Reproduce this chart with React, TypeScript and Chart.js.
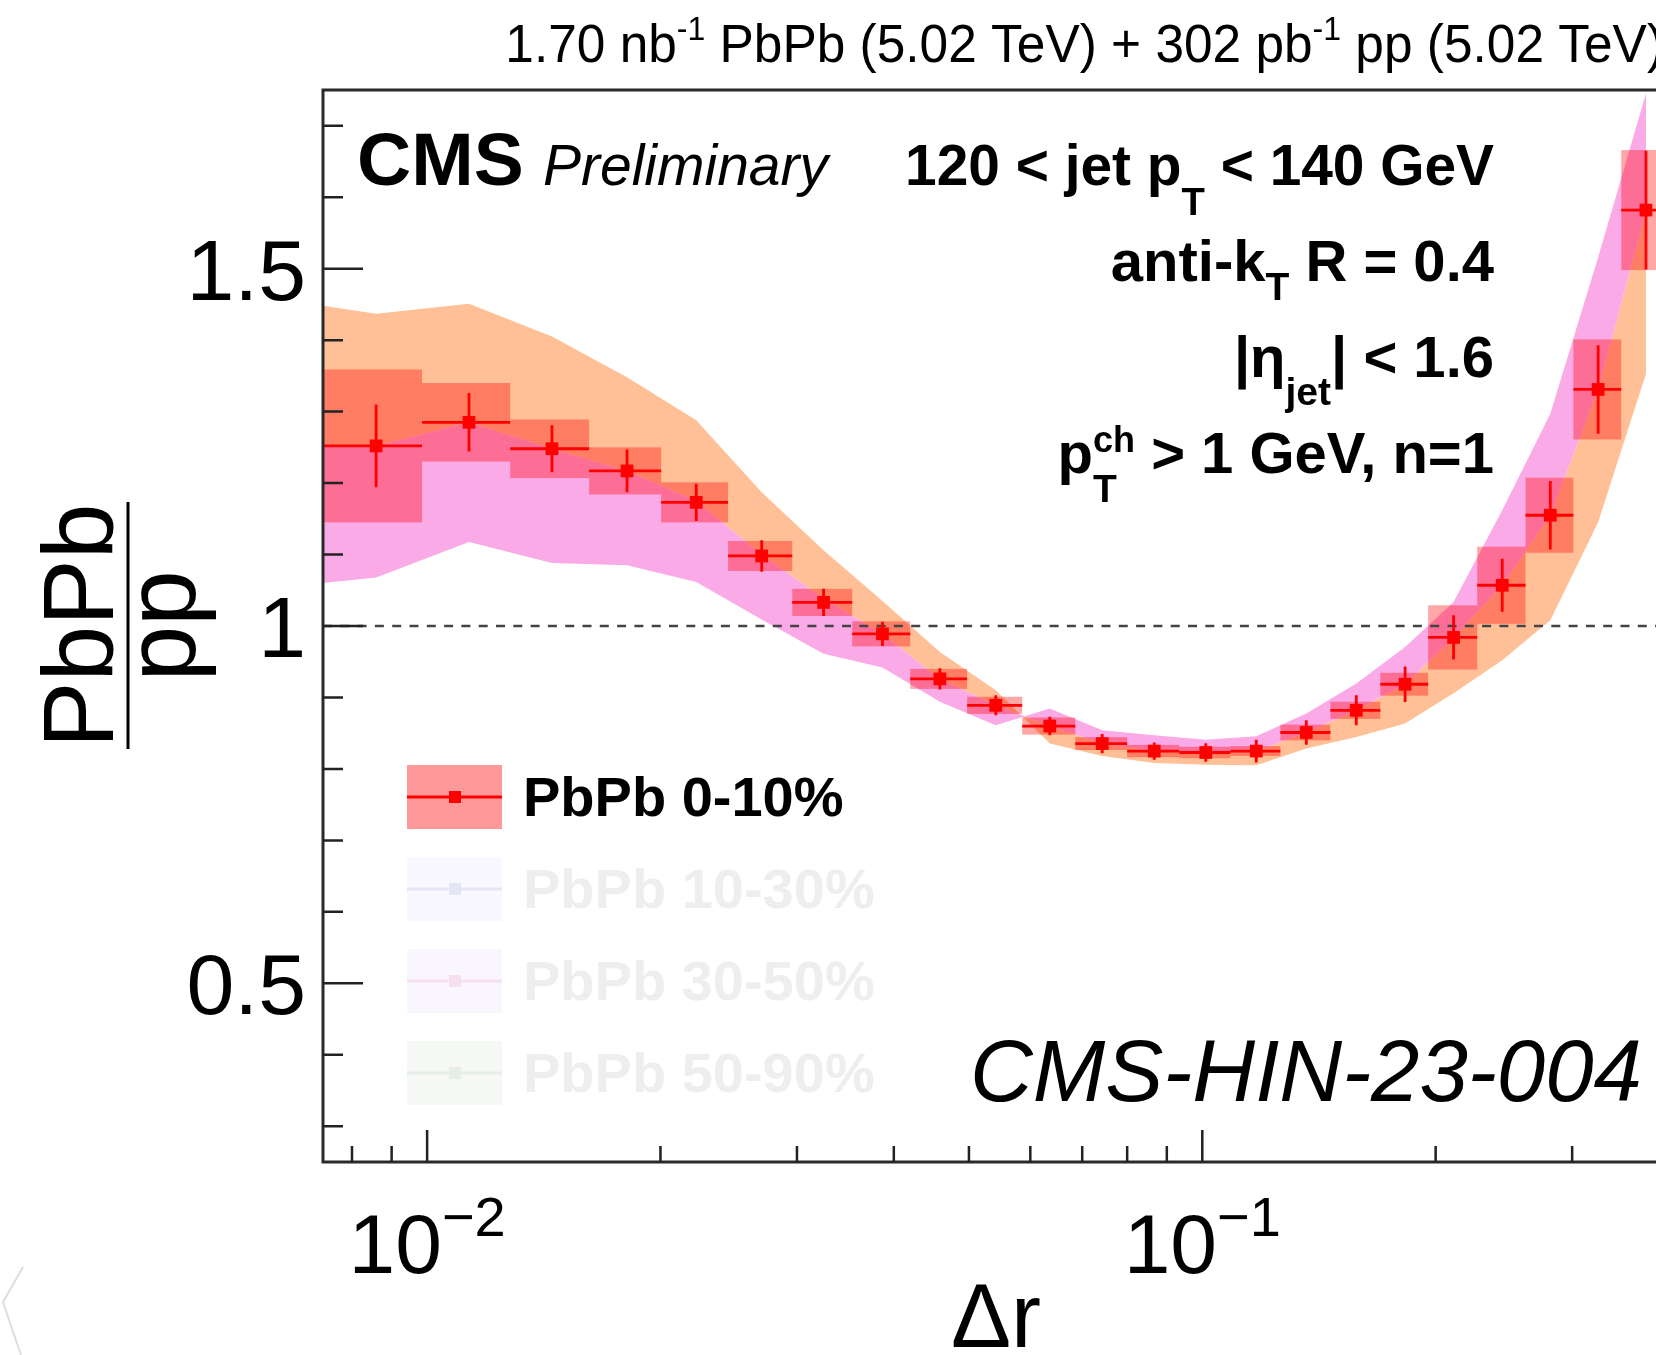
import React, { useEffect, useRef } from "react";
import { Chart, registerables } from "chart.js";

Chart.register(...registerables);

const FONT = '"Liberation Sans", Arial, Helvetica, sans-serif';

// Δr bin edges (23 bins)
const binEdges = [
  0.00734, 0.00985, 0.0128, 0.01618, 0.02004, 0.02445, 0.02958, 0.03535, 0.042, 0.04973,
  0.05857, 0.06857, 0.08, 0.0934, 0.1087, 0.1261, 0.1463, 0.1697, 0.1956, 0.2263,
  0.2612, 0.3011, 0.3471, 0.4,
];

// PbPb 0-10% / pp ratio, statistical and systematic uncertainties
const ratio010 = [
  1.252, 1.285, 1.248, 1.217, 1.173, 1.098, 1.033, 0.989, 0.926, 0.889, 0.86, 0.8355,
  0.825, 0.823, 0.825, 0.851, 0.882, 0.9185, 0.984, 1.057, 1.155, 1.331, 1.582,
];
const statErr = [
  0.058, 0.041, 0.033, 0.03, 0.026, 0.022, 0.019, 0.017, 0.015, 0.014, 0.013, 0.0135,
  0.012, 0.013, 0.016, 0.017, 0.021, 0.025, 0.031, 0.037, 0.048, 0.062, 0.083,
];
const sysErr = [
  0.107, 0.055, 0.041, 0.033, 0.028, 0.021, 0.019, 0.0175, 0.014, 0.012, 0.012, 0.009,
  0.0086, 0.008, 0.007, 0.011, 0.012, 0.016, 0.045, 0.054, 0.0525, 0.07, 0.084,
];

// Comparison bands: vertices at the frame's left edge, then at each bin centre.
const bandSplit = [
  1.252, 1.252, 1.285, 1.248, 1.217, 1.175, 1.1, 1.038, 0.989, 0.926, 0.889, 0.86,
  0.8355, 0.825, 0.823, 0.825, 0.851, 0.882, 0.9185, 0.984, 1.057, 1.155, 1.331, 1.58,
];
const pinkEdge = [
  1.06, 1.068, 1.1175, 1.088, 1.085, 1.0615, 1.009, 0.961, 0.942, 0.894, 0.861, 0.8845,
  0.854, 0.847, 0.841, 0.8457, 0.8775, 0.9194, 0.9706, 1.0336, 1.162, 1.297, 1.516, 1.745,
];
const orangeEdge = [
  1.448, 1.437, 1.451, 1.405, 1.348, 1.288, 1.187, 1.106, 1.035, 0.9636, 0.91, 0.8355,
  0.818, 0.8084, 0.806, 0.805, 0.8285, 0.8448, 0.8635, 0.906, 0.952, 1.008, 1.145, 1.353,
];

// Axis ticks
const yMajorTicks = [0.5, 1, 1.5];
const yTickLabels = ["0.5", "1", "1.5"];
const yMinorTicks = [0.3, 0.4, 0.6, 0.7, 0.8, 0.9, 1.1, 1.2, 1.3, 1.4, 1.6, 1.7];
const xMajorTicks = [0.01, 0.1];
const xTickExponents = ["\u22122", "\u22121"];
const xMinorTicks = [0.008, 0.009, 0.02, 0.03, 0.04, 0.05, 0.06, 0.07, 0.08, 0.09, 0.2, 0.3];

// Legend
const legendLabels = ["PbPb 0-10%", "PbPb 10-30%", "PbPb 30-50%", "PbPb 50-90%"];
const legendBoxColors = ["rgba(255,0,0,0.4)", "#f8f8fe", "#faf6fe", "#f6f8f6"];
const legendLineColors = ["#ff0000", "#e4e6f6", "#f6e0ee", "#e6eee8"];
const legendTextColors = ["#000000", "#eeeeee", "#eeeeee", "#eeeeee"];

const PINK = "rgb(250,170,230)";
const ORANGE = "rgb(255,192,151)";
const SYS_FILL = "rgba(255,0,0,0.35)";
const RED = "#ff0000";

type Run = {
  text: string;
  size: number;
  dy?: number;
  weight?: string;
  italic?: boolean;
  advance?: boolean;
};

function fontOf(r: Run) {
  return `${r.italic ? "italic " : ""}${r.weight || "normal"} ${r.size}px ${FONT}`;
}

function drawRuns(
  ctx: CanvasRenderingContext2D,
  runs: Run[],
  x: number,
  y: number,
  align: "left" | "right" | "center",
  color: string,
  sx = 1
) {
  const widths = runs.map((r) => {
    ctx.font = fontOf(r);
    return ctx.measureText(r.text).width;
  });
  let total = 0;
  let pending = 0;
  runs.forEach((r, i) => {
    if (r.advance === false) pending = Math.max(pending, widths[i]);
    else {
      total += Math.max(widths[i], pending);
      pending = 0;
    }
  });
  const start = align === "right" ? x - total * sx : align === "center" ? x - (total * sx) / 2 : x;
  ctx.save();
  ctx.translate(start, y);
  ctx.scale(sx, 1);
  ctx.fillStyle = color;
  ctx.textAlign = "left";
  ctx.textBaseline = "alphabetic";
  let cx = 0;
  pending = 0;
  runs.forEach((r, i) => {
    ctx.font = fontOf(r);
    ctx.fillText(r.text, cx, r.dy || 0);
    if (r.advance === false) pending = Math.max(pending, widths[i]);
    else {
      cx += Math.max(widths[i], pending);
      pending = 0;
    }
  });
  ctx.restore();
}

const binCentres = ratio010.map((_, i) => (binEdges[i] + binEdges[i + 1]) / 2);
const bandX = [binEdges[0], ...binCentres];

const hepPlugin = {
  id: "hepDecor",
  beforeDatasetDraw(chart: any, args: any) {
    if (args.index !== 0) return;
    const { ctx, chartArea } = chart;
    const xs = chart.scales.x;
    const ys = chart.scales.y;
    ctx.save();
    ctx.beginPath();
    ctx.rect(chartArea.left, chartArea.top, chartArea.right - chartArea.left, chartArea.bottom - chartArea.top);
    ctx.clip();
    // systematic boxes
    ctx.fillStyle = SYS_FILL;
    ratio010.forEach((v, i) => {
      const xl = xs.getPixelForValue(binEdges[i]);
      const xr = xs.getPixelForValue(binEdges[i + 1]);
      const yt = ys.getPixelForValue(v + sysErr[i]);
      const yb = ys.getPixelForValue(v - sysErr[i]);
      ctx.fillRect(xl, yt, xr - xl, yb - yt);
    });
    // reference line at unity
    ctx.strokeStyle = "#444444";
    ctx.lineWidth = 2.5;
    ctx.setLineDash([9, 8.3]);
    const y1 = ys.getPixelForValue(1);
    ctx.beginPath();
    ctx.moveTo(chartArea.left, y1);
    ctx.lineTo(chartArea.right, y1);
    ctx.stroke();
    ctx.setLineDash([]);
    // statistical error bars
    ctx.strokeStyle = RED;
    ctx.lineWidth = 2.8;
    ratio010.forEach((v, i) => {
      const xl = xs.getPixelForValue(binEdges[i]);
      const xr = xs.getPixelForValue(binEdges[i + 1]);
      const xc = xs.getPixelForValue(binCentres[i]);
      const yc = ys.getPixelForValue(v);
      ctx.beginPath();
      ctx.moveTo(xl, yc);
      ctx.lineTo(xr, yc);
      ctx.moveTo(xc, ys.getPixelForValue(v + statErr[i]));
      ctx.lineTo(xc, ys.getPixelForValue(v - statErr[i]));
      ctx.stroke();
    });
    ctx.restore();
  },
  afterDraw(chart: any) {
    const { ctx, chartArea } = chart;
    const xs = chart.scales.x;
    const ys = chart.scales.y;
    const { left, right, top, bottom } = chartArea;
    ctx.save();

    // frame
    ctx.strokeStyle = "#2a2a2a";
    ctx.lineWidth = 3;
    ctx.strokeRect(left, top, right - left, bottom - top);

    // inward ticks
    ctx.lineWidth = 2.5;
    ctx.strokeStyle = "#222222";
    ctx.beginPath();
    yMajorTicks.forEach((v) => {
      const y = ys.getPixelForValue(v);
      ctx.moveTo(left, y);
      ctx.lineTo(left + 40, y);
    });
    yMinorTicks.forEach((v) => {
      const y = ys.getPixelForValue(v);
      ctx.moveTo(left, y);
      ctx.lineTo(left + 20, y);
    });
    xMajorTicks.forEach((v) => {
      const x = xs.getPixelForValue(v);
      ctx.moveTo(x, bottom);
      ctx.lineTo(x, bottom - 32);
    });
    xMinorTicks.forEach((v) => {
      const x = xs.getPixelForValue(v);
      ctx.moveTo(x, bottom);
      ctx.lineTo(x, bottom - 16);
    });
    ctx.stroke();

    // y tick labels
    ctx.fillStyle = "#000";
    ctx.font = `86px ${FONT}`;
    ctx.textAlign = "right";
    ctx.textBaseline = "alphabetic";
    yMajorTicks.forEach((v, i) => {
      ctx.fillText(yTickLabels[i], left - 17, ys.getPixelForValue(v) + 31);
    });

    // x tick labels 10^n
    xMajorTicks.forEach((v, i) => {
      drawRuns(
        ctx,
        [
          { text: "10", size: 84 },
          { text: xTickExponents[i], size: 56, dy: -37 },
        ],
        xs.getPixelForValue(v),
        1273,
        "center",
        "#000"
      );
    });

    // axis titles
    drawRuns(ctx, [{ text: "\u0394r", size: 90 }], (left + right) / 2, 1347, "center", "#000");
    ctx.save();
    ctx.translate(128, ys.getPixelForValue(1));
    ctx.rotate(-Math.PI / 2);
    ctx.fillStyle = "#000";
    ctx.font = `100px ${FONT}`;
    ctx.textAlign = "center";
    ctx.fillText("PbPb", 0, -15);
    ctx.fillText("pp", 0, 67);
    ctx.fillRect(-123, -1.5, 247, 3);
    ctx.restore();

    // luminosity header
    drawRuns(
      ctx,
      [
        { text: "1.70 nb", size: 53 },
        { text: "-1", size: 33, dy: -22 },
        { text: " PbPb (5.02 TeV) + 302 pb", size: 53 },
        { text: "-1", size: 33, dy: -22 },
        { text: " pp (5.02 TeV)", size: 53 },
      ],
      1664,
      62,
      "right",
      "#000",
      0.97
    );

    // CMS label
    drawRuns(ctx, [{ text: "CMS", size: 75, weight: "bold" }], 357, 185, "left", "#000");
    drawRuns(ctx, [{ text: "Preliminary", size: 57, italic: true }], 543, 185, "left", "#000");

    // selection text
    const B = "bold";
    const R0 = 1494;
    drawRuns(
      ctx,
      [
        { text: "120 < jet p", size: 58, weight: B },
        { text: "T", size: 39, weight: B, dy: 30 },
        { text: " < 140 GeV", size: 58, weight: B },
      ],
      R0,
      185,
      "right",
      "#000",
      0.98
    );
    drawRuns(
      ctx,
      [
        { text: "anti-k", size: 58, weight: B },
        { text: "T", size: 39, weight: B, dy: 19 },
        { text: " R = 0.4", size: 58, weight: B },
      ],
      R0,
      281,
      "right",
      "#000"
    );
    drawRuns(
      ctx,
      [
        { text: "|\u03b7", size: 58, weight: B },
        { text: "jet", size: 39, weight: B, dy: 28 },
        { text: "| < 1.6", size: 58, weight: B },
      ],
      R0,
      377,
      "right",
      "#000"
    );
    drawRuns(
      ctx,
      [
        { text: "p", size: 58, weight: B },
        { text: "T", size: 39, weight: B, dy: 29, advance: false },
        { text: "ch", size: 36, weight: B, dy: -21 },
        { text: " > 1 GeV, n=1", size: 58, weight: B },
      ],
      R0,
      473,
      "right",
      "#000"
    );

    // analysis tag
    drawRuns(ctx, [{ text: "CMS-HIN-23-004", size: 87, italic: true }], 1642, 1101, "right", "#000");

    // legend
    legendLabels.forEach((lab, i) => {
      const cy = 797 + i * 92;
      ctx.fillStyle = legendBoxColors[i];
      ctx.fillRect(407, cy - 32, 95, 64);
      ctx.strokeStyle = legendLineColors[i];
      ctx.lineWidth = 2.8;
      ctx.beginPath();
      ctx.moveTo(407, cy);
      ctx.lineTo(502, cy);
      ctx.stroke();
      ctx.fillStyle = legendLineColors[i];
      ctx.fillRect(449, cy - 6, 12, 12);
      drawRuns(ctx, [{ text: lab, size: 56, weight: "bold" }], 523, cy + 19, "left", legendTextColors[i]);
    });

    // faint slide arrow in the corner
    ctx.strokeStyle = "#dddddd";
    ctx.lineWidth = 2;
    ctx.beginPath();
    ctx.moveTo(23, 1267);
    ctx.lineTo(3, 1302);
    ctx.lineTo(21, 1355);
    ctx.stroke();

    ctx.restore();
  },
};

export default function App() {
  const ref = useRef<HTMLCanvasElement | null>(null);
  useEffect(() => {
    const canvas = ref.current;
    if (!canvas) return;
    const pts = ratio010.map((v, i) => ({ x: binCentres[i], y: v }));
    const toXY = (arr: number[]) => arr.map((v, i) => ({ x: bandX[i], y: v }));
    const chart = new Chart(canvas, {
      type: "scatter",
      data: {
        datasets: [
          {
            label: "PbPb 0-10%",
            data: pts,
            order: 0,
            pointStyle: "rect",
            pointRadius: 9,
            backgroundColor: RED,
            borderWidth: 0,
          } as any,
          {
            label: "band A",
            data: toXY(pinkEdge),
            order: 2,
            showLine: true,
            fill: 3,
            backgroundColor: PINK,
            borderColor: "transparent",
            borderWidth: 0,
            pointRadius: 0,
          },
          {
            label: "band B",
            data: toXY(orangeEdge),
            order: 3,
            showLine: true,
            fill: 3,
            backgroundColor: ORANGE,
            borderColor: "transparent",
            borderWidth: 0,
            pointRadius: 0,
          },
          {
            label: "split",
            data: toXY(bandSplit),
            order: 4,
            showLine: true,
            fill: false,
            borderColor: "transparent",
            borderWidth: 0,
            pointRadius: 0,
          },
        ],
      },
      options: {
        animation: false,
        responsive: false,
        devicePixelRatio: 1,
        events: [],
        layout: { padding: { left: 323, top: 90, right: 31, bottom: 193 } },
        plugins: { legend: { display: false }, tooltip: { enabled: false } },
        scales: {
          x: { type: "logarithmic", min: 0.00734, max: 0.4, display: false },
          y: { type: "linear", min: 0.25, max: 1.75, display: false },
        },
      },
      plugins: [hepPlugin],
    });
    return () => chart.destroy();
  }, []);

  return (
    <div
      style={{
        position: "absolute",
        left: 0,
        top: 0,
        width: 1656,
        height: 1355,
        overflow: "hidden",
        background: "#fff",
      }}
    >
      <canvas ref={ref} width={1700} height={1355} style={{ width: 1700, height: 1355, display: "block" }} />
    </div>
  );
}
